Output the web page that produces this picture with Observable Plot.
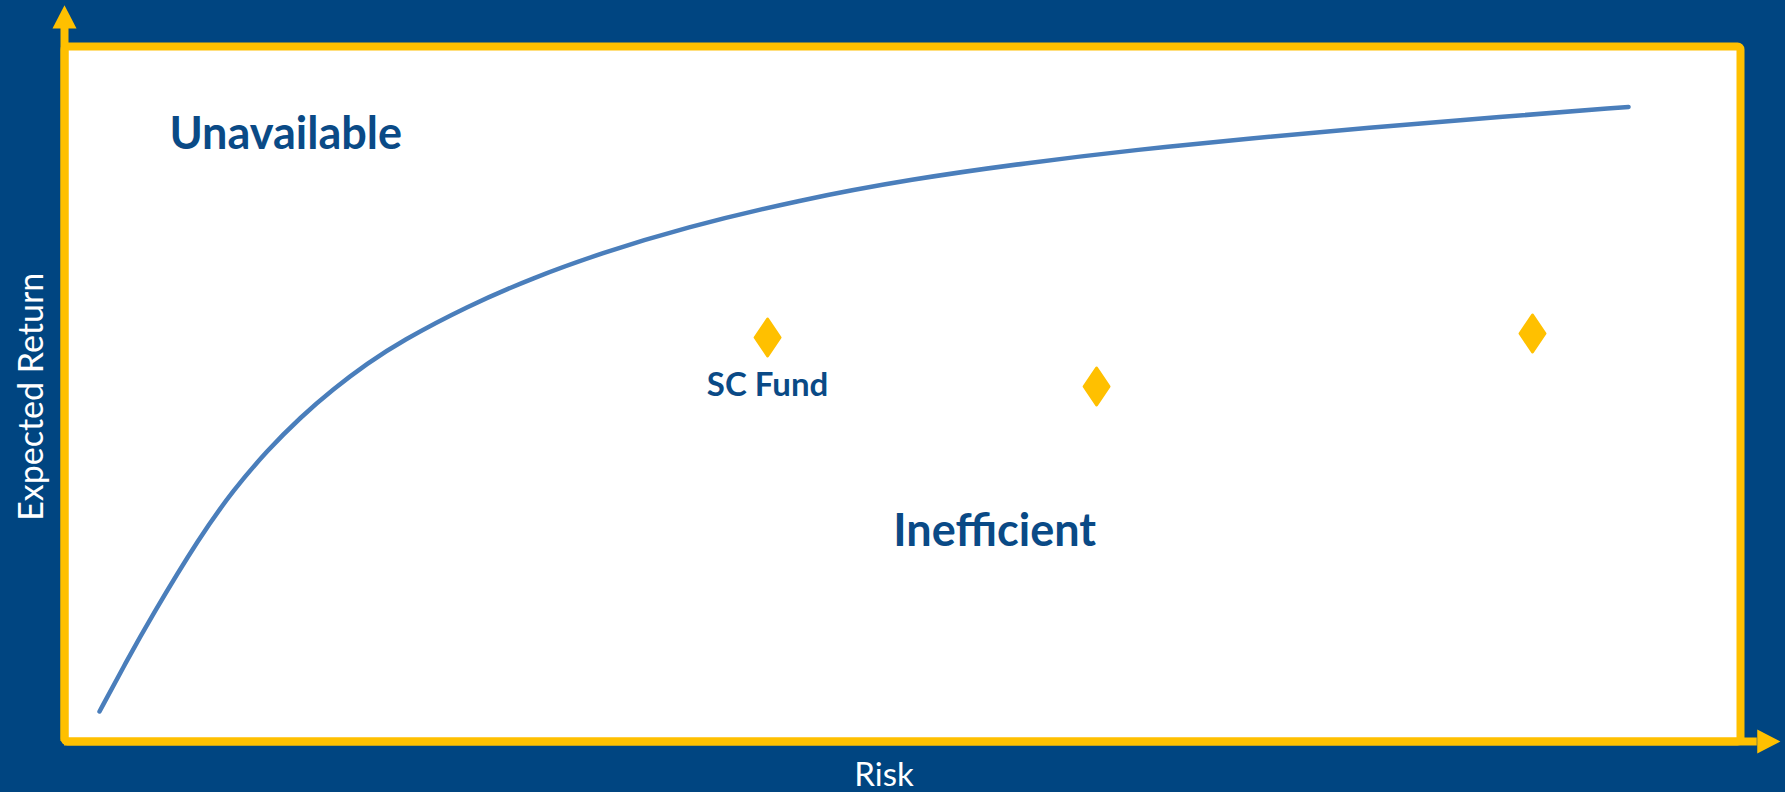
<!DOCTYPE html>
<html>
<head>
<meta charset="utf-8">
<script src="https://cdn.jsdelivr.net/npm/d3@7"></script>
<script src="https://cdn.jsdelivr.net/npm/@observablehq/plot@0.6"></script>
<style>
  html, body { margin: 0; padding: 0; background: #004581; }
  #chart { width: 1785px; height: 792px; overflow: hidden; }
</style>
</head>
<body>
<div id="chart"></div>
<script>
// Efficient frontier curve (risk vs expected return, arbitrary 0–100 units)
const frontierRisk   = [2.09, 3.64, 5.13, 8.11, 10.08, 12.11, 14.08, 16.05, 18.08, 20.05, 24.05, 27.98, 31.98, 36.93, 43.91, 50.54, 57.34, 64.08, 70.76, 77.68, 85.68, 93.32];
const frontierReturn = [4.32, 11.28, 17.75, 29.61, 36.19, 41.91, 46.66, 50.75, 54.42, 57.55, 62.66, 66.75, 70.22, 73.91, 77.96, 80.93, 83.24, 85.18, 86.79, 88.29, 89.87, 91.31];

// Funds (diamonds)
const fundNames  = ["SC Fund", "", ""];
const fundRisk   = [41.95, 61.58, 87.59];
const fundReturn = [58.13, 51.08, 58.71];

// Region labels
const regionNames  = ["Unavailable", "Inefficient"];
const regionRisk   = [13.2, 55.5];
const regionReturn = [85.3, 28.2];

// Axis titles and extents
const xTitle = "Risk";
const yTitle = "Expected Return";
const xAxisEnd = 101.0;
const yAxisEnd = 102.6;

const yellow = "#FFC000";
const navy = "#0A4A86";
const lineBlue = "#4A7EBB";

const frontier = frontierRisk.map((r, i) => ({risk: r, ret: frontierReturn[i]}));
const funds = fundNames.map((n, i) => ({name: n, risk: fundRisk[i], ret: fundReturn[i]}));
const regions = regionNames.map((n, i) => ({name: n, risk: regionRisk[i], ret: regionReturn[i]}));

const diamond = {
  draw(ctx, size) {
    const k = 0.675;
    const h = Math.sqrt(size / (2 * k));
    const w = h * k;
    ctx.moveTo(0, -h); ctx.lineTo(w, 0); ctx.lineTo(0, h); ctx.lineTo(-w, 0); ctx.closePath();
  }
};
const arrowHead = {
  draw(ctx, size) {
    const k = 0.52;
    const h = Math.sqrt(size / k);
    const w = h * k;
    ctx.moveTo(0, -h); ctx.lineTo(w, 0); ctx.lineTo(-w, 0); ctx.closePath();
  }
};

const chart = Plot.plot({
  width: 1785,
  height: 792,
  marginLeft: 64,
  marginRight: 45,
  marginTop: 46,
  marginBottom: 51,
  x: {domain: [0, 100], axis: null},
  y: {domain: [0, 100], axis: null},
  style: {background: "#004581", fontFamily: "Lato, 'Open Sans', sans-serif", overflow: "visible"},
  marks: [
    Plot.frame({fill: "white"}),
    Plot.ruleX([0], {y1: 0, y2: yAxisEnd, stroke: yellow, strokeWidth: 8}),
    Plot.ruleY([0], {x1: 0, x2: xAxisEnd, stroke: yellow, strokeWidth: 8}),
    Plot.frame({stroke: yellow, strokeWidth: 8, rx: 3}),
    Plot.dot([{x: 0, y: yAxisEnd, a: 0}, {x: xAxisEnd, y: 0, a: 90}],
      {x: "x", y: "y", rotate: "a", symbol: arrowHead, r: 9.4, fill: yellow, stroke: "none"}),
    Plot.line(frontier, {x: "risk", y: "ret", curve: "basis", stroke: lineBlue, strokeWidth: 4.5}),
    Plot.dot(funds, {x: "risk", y: "ret", symbol: diamond, r: 12.1, fill: yellow, stroke: yellow, strokeWidth: 3, strokeLinejoin: "round"}),
    Plot.text(funds, {x: "risk", y: "ret", text: "name", dy: 59, lineAnchor: "bottom", fontSize: 33, fontWeight: "bold", fill: navy}),
    Plot.text(regions, {x: "risk", y: "ret", text: "name", lineAnchor: "bottom", fontSize: 45, fontWeight: "bold", fill: navy}),
    Plot.text([xTitle], {x: 48.9, frameAnchor: "bottom", dy: 44, lineAnchor: "bottom", fontSize: 33, fill: "white"}),
    Plot.text([yTitle], {y: 49.6, frameAnchor: "left", dx: -22, rotate: -90, textAnchor: "middle", lineAnchor: "bottom", fontSize: 34, fill: "white"})
  ]
});
document.getElementById("chart").appendChild(chart);
</script>
</body>
</html>
